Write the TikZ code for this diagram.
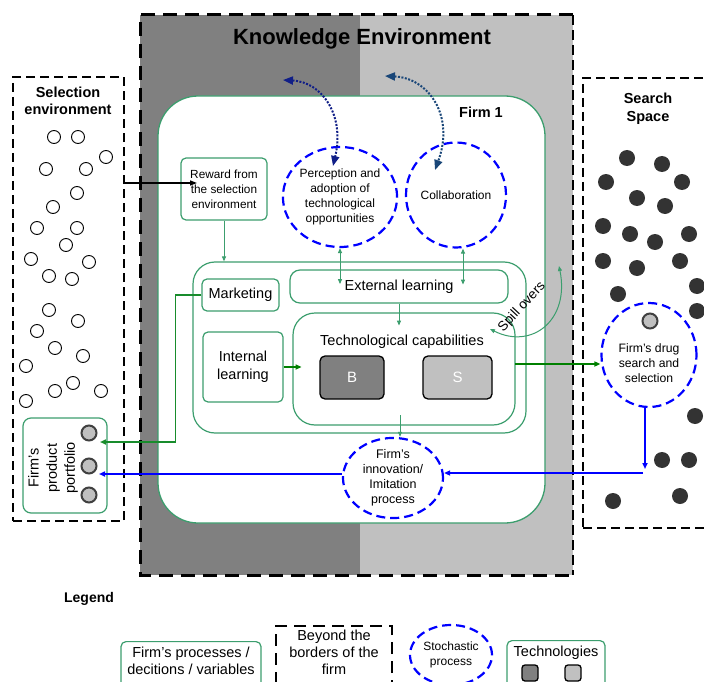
\documentclass[tikz,border=0pt]{standalone}
\usepackage{fontspec}
\setmainfont{Liberation Sans}
\usetikzlibrary{arrows.meta, shapes.geometric}
\definecolor{fgreen}{RGB}{60,158,110}
\definecolor{dgreen}{RGB}{0,128,0}
\definecolor{kdark}{RGB}{128,128,128}
\definecolor{klight}{RGB}{192,192,192}
\definecolor{navyarr}{RGB}{16,30,135}
\definecolor{steelarr}{RGB}{25,70,120}
\definecolor{dotgray}{RGB}{51,51,51}
\newcommand\fsz[2]{\fontsize{#1}{#2}\selectfont}

\begin{document}
\begin{tikzpicture}[x=1pt, y=-1pt,
  fp/.style={rectangle, draw=fgreen, line width=1.2pt, rounded corners=5pt, fill=white, align=center, inner sep=1pt, font=\fsz{14.5}{18}},
  sp/.style={ellipse, draw=blue, line width=2.2pt, dash pattern=on 9pt off 5pt, align=center, inner sep=0pt, font=\fsz{12}{15}},
  bd/.style={draw, line width=2pt, dash pattern=on 9pt off 5pt},
  kb/.style={draw, line width=3pt, dash pattern=on 14pt off 8pt},
  tk/.style={rectangle, draw, line width=1.3pt, rounded corners=5pt, minimum height=43pt, text=white, font=\fsz{15}{17}},
  ttl/.style={align=center, font=\bfseries\fsz{14.5}{17.5}},
  oc/.style={circle, draw, line width=0.9pt, minimum size=13pt, inner sep=0pt},
  fc/.style={circle, fill=dotgray, minimum size=16pt, inner sep=0pt},
  pc/.style={circle, draw=black!75, line width=2pt, fill=klight, minimum size=15pt, inner sep=0pt},
  ga/.style={draw=fgreen, line width=1pt, -{Triangle[length=5pt,width=4pt]}},
  gb/.style={draw=fgreen, line width=1pt, {Triangle[length=5pt,width=4pt]}-{Triangle[length=5pt,width=4pt]}},
  dg/.style={draw=dgreen, line width=1.6pt, -{Triangle[length=6pt,width=5pt]}},
  ba/.style={draw=blue, line width=1.5pt, -{Triangle[length=6pt,width=5pt]}},
  na/.style={line width=2pt, dash pattern=on 2pt off 1.5pt, {Triangle[length=10pt,width=8pt]}-{Triangle[length=10pt,width=8pt]}}]
\useasboundingbox (0,0) rectangle (704,682);
\clip (0,0) rectangle (704,682);

% knowledge environment
\fill[kdark] (140,15) rectangle (360,575);
\fill[klight] (360,15) rectangle (573,575);
\draw[kb] (573,15) -- (140,15) -- (140,575) -- (573,575);
\draw[line width=1.2pt, dash pattern=on 10pt off 5pt] (573,15) -- (573,575);
\node[font=\bfseries\fsz{22}{26}] (kenv) at (362,39) {Knowledge Environment};

% firm
\node[fp, rounded corners=40pt, line width=1.3pt, minimum width=387pt, minimum height=427pt] (firm) at (351.5,309.5) {};
\node[ttl] (firmt) at (481,112) {Firm 1};
\node[fp, font=\fsz{11.8}{15}, minimum width=86pt, minimum height=62pt] (reward) at (224,189) {Reward from\\the selection\\environment};
\node[sp, minimum width=110pt, minimum height=100pt] (perc) at (340,197) {Perception and\\adoption of\\technological\\opportunities};
\node[sp, minimum width=97pt, minimum height=105pt] (collab) at (456,195) {Collaboration};
\node[fp, rounded corners=22pt, minimum width=333pt, minimum height=171pt] (intl) at (359.5,347.5) {};
\node[fp, rounded corners=10pt, minimum width=218pt, minimum height=33pt] (ext) at (399,286.5) {External learning};
\node[fp, rounded corners=22pt, minimum width=222pt, minimum height=112pt] (tech) at (404,369) {};
\node[font=\fsz{14.5}{17}] (techt) at (402,342) {Technological capabilities};
\node[tk, fill=kdark, minimum width=64pt] (bb) at (352,377.5) {B};
\node[tk, fill=klight, minimum width=69pt] (sb) at (457.5,377.5) {S};
\node[fp, minimum width=77pt, minimum height=32pt] (mkt) at (240.5,295) {Marketing};
\node[fp, minimum width=80pt, minimum height=70pt] (ilearn) at (243,367) {Internal\\learning};
\node[sp, minimum width=100pt, minimum height=78pt, font=\fsz{12.5}{15}] (inno) at (393,478) {Firm's\\innovation/\\Imitation\\process};

% selection environment
\node[bd, minimum width=111pt, minimum height=444pt] (selenv) at (68.5,299) {};
\node[ttl] (selt) at (68,101) {Selection\\environment};
\foreach \x/\y [count=\i] in {54/137, 78/137, 106/157, 46/169, 86/169, 77/193, 53/207, 37/228,
  77/228, 66/245, 31/259, 89/262, 49/276, 72/279, 49/310, 78/321, 37/331, 55/348, 83/356,
  26/366, 73/383, 55/391, 101/391, 26/401}
  \node[oc] (sel\i) at (\x,\y) {};
\node[fp, rounded corners=8pt, minimum width=84pt, minimum height=95pt] (port) at (65,465.5) {};
\node[font=\fsz{14.5}{18}, rotate=90, align=center] (portt) at (53,468) {Firm's\\product\\portfolio};
\node[pc] (pc1) at (89,433) {};
\node[pc] (pc2) at (89,466) {};
\node[pc] (pc3) at (89,495) {};

% search space
\node[bd, minimum width=129pt, minimum height=450pt] (srch) at (647.5,303) {};
\node[ttl] (srcht) at (648,109) {Search\\Space};
\foreach \x/\y [count=\i] in {627/158, 662/164, 606/182, 682/182, 637/198, 665/206, 603/226,
  630/234, 655/242, 689/234, 603/261, 637/268, 680/261, 697/286, 618/294, 697/311, 695/416,
  662/460, 689/460, 613/501, 680/496}
  \node[fc] (dot\i) at (\x,\y) {};
\node[sp, minimum width=95pt, minimum height=104pt] (drug) at (649,355) {};
\node[pc] (drugc) at (650,321) {};
\node[font=\fsz{12.2}{15}, align=center] (drugt) at (649,363) {Firm's drug\\search and\\selection};

% connectors
\coordinate (rwin) at (197,183);
\draw[line width=1.5pt, -{Triangle[length=7pt,width=5pt]}] (selenv.east |- rwin) -- (rwin);
\draw[ga] (reward.south) -- (reward.south |- intl.north);
\coordinate (nv1) at (283,80);
\coordinate (nv2) at (333,166);
\coordinate (nv3) at (385,76);
\coordinate (nv4) at (435,170);
\draw[na, draw=navyarr] (nv1) .. controls (322,82) and (345,115) .. (nv2);
\draw[na, draw=steelarr] (nv3) .. controls (428,78) and (455,115) .. (nv4);
\draw[gb] (perc.south) -- ++(0,36);
\draw[gb] ([xshift=7pt]collab.south) -- ++(0,36);
\draw[ga] (ext.south) -- ++(0,22);
\draw[dg] (ilearn.east) -- ++(18,0);
\coordinate (tout) at (515,364);
\draw[dg] (tout) -- (tout -| drug.west);
\coordinate (spA) at (490,329);
\coordinate (spB) at (559,266);
\draw[gb] (spA) .. controls (532,350) and (570,320) .. (spB);
\node[font=\fsz{13.5}{16}, rotate=47, inner sep=0pt] (spill) at (522,307) {Spill overs};
\coordinate (tdown) at (400,415);
\draw[ga] (tdown) -- (tdown |- inno.north);
\coordinate (mkin) at (100,442);
\draw[dg, draw=dgreen!60!fgreen] (mkt.west) -- ++(-26,0) |- (mkin);
\coordinate (dturn) at (645,469);
\draw[ba, line width=2pt] (drug.south -| dturn) -- (dturn);
\coordinate (iin) at (643,473);
\draw[ba, line width=2pt] (iin) -- (inno.east |- iin);
\coordinate (pin) at (99,474);
\draw[ba] (inno.west |- pin) -- (pin);

% legend
\node[font=\bfseries\fsz{14}{17}] (leg) at (89,599) {Legend};
\node[fp, minimum width=140pt, minimum height=50pt, anchor=north] (lfp) at (191,641) {};
\node[font=\fsz{14.5}{17}, align=center] (lfpt) at (191,661) {Firm's processes /\\decitions / variables};
\node[draw, line width=2.5pt, dash pattern=on 12pt off 7pt, minimum width=116pt, minimum height=64pt] (lbd) at (334,658) {};
\node[font=\fsz{14.5}{17}, align=center] (lbdt) at (334,652) {Beyond the\\borders of the\\firm};
\node[sp, minimum width=82pt, minimum height=60pt] (lsp) at (451,655) {Stochastic\\process};
\node[fp, minimum width=98pt, minimum height=50pt, anchor=north] (ltech) at (556,640) {};
\node[font=\fsz{14.5}{17}] (ltecht) at (556,653) {Technologies};
\node[tk, fill=kdark, minimum width=16pt, minimum height=16pt, rounded corners=3pt] (lb) at (530,673) {};
\node[tk, fill=klight, minimum width=16pt, minimum height=16pt, rounded corners=3pt] (ls) at (573,673) {};
\end{tikzpicture}
\end{document}
